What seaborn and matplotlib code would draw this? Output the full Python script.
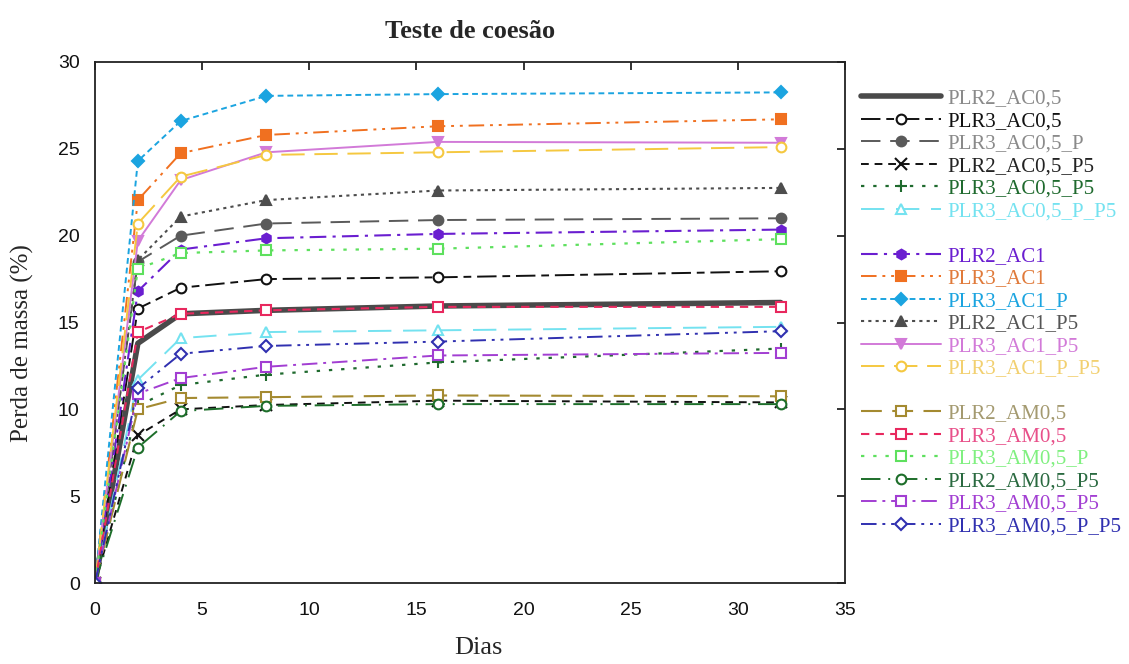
import matplotlib
matplotlib.use("Agg")
import matplotlib.pyplot as plt
from matplotlib.lines import Line2D
import seaborn as sns
import numpy as np

sns.set_theme(style="white")
plt.rcParams['font.family'] = ['Liberation Serif', 'DejaVu Serif']

dias = [0, 2, 4, 8, 16, 32]

series_names = [
    "PLR2_AC0,5", "PLR3_AC0,5", "PLR3_AC0,5_P", "PLR2_AC0,5_P5", "PLR3_AC0,5_P5", "PLR3_AC0,5_P_P5",
    "PLR2_AC1", "PLR3_AC1", "PLR3_AC1_P", "PLR2_AC1_P5", "PLR3_AC1_P5", "PLR3_AC1_P_P5",
    "PLR2_AM0,5", "PLR3_AM0,5", "PLR3_AM0,5_P", "PLR2_AM0,5_P5", "PLR3_AM0,5_P5", "PLR3_AM0,5_P_P5",
]

plr2_ac05 = [0, 13.8, 15.5, 15.7, 15.95, 16.15]
plr3_ac05 = [0, 15.8, 17.0, 17.5, 17.6, 17.95]
plr3_ac05_p = [0, 18.5, 20.0, 20.7, 20.9, 21.0]
plr2_ac05_p5 = [0, 8.5, 10.0, 10.25, 10.5, 10.4]
plr3_ac05_p5 = [0, 10.2, 11.4, 12.0, 12.7, 13.5]
plr3_ac05_p_p5 = [0, 11.7, 14.1, 14.45, 14.55, 14.75]
plr2_ac1 = [0, 16.8, 19.2, 19.85, 20.1, 20.35]
plr3_ac1 = [0, 22.05, 24.75, 25.8, 26.3, 26.7]
plr3_ac1_p = [0, 24.3, 26.6, 28.05, 28.15, 28.25]
plr2_ac1_p5 = [0, 18.6, 21.1, 22.05, 22.6, 22.75]
plr3_ac1_p5 = [0, 19.7, 23.2, 24.8, 25.4, 25.35]
plr3_ac1_p_p5 = [0, 20.7, 23.4, 24.65, 24.8, 25.1]
plr2_am05 = [0, 10.0, 10.65, 10.7, 10.8, 10.75]
plr3_am05 = [0, 14.45, 15.5, 15.7, 15.9, 15.9]
plr3_am05_p = [0, 18.1, 19.0, 19.15, 19.25, 19.8]
plr2_am05_p5 = [0, 7.8, 9.9, 10.2, 10.3, 10.3]
plr3_am05_p5 = [0, 10.9, 11.8, 12.45, 13.1, 13.25]
plr3_am05_p_p5 = [0, 11.2, 13.2, 13.65, 13.9, 14.5]

values = [
    plr2_ac05, plr3_ac05, plr3_ac05_p, plr2_ac05_p5, plr3_ac05_p5, plr3_ac05_p_p5,
    plr2_ac1, plr3_ac1, plr3_ac1_p, plr2_ac1_p5, plr3_ac1_p5, plr3_ac1_p_p5,
    plr2_am05, plr3_am05, plr3_am05_p, plr2_am05_p5, plr3_am05_p5, plr3_am05_p_p5,
]

# styles: color, text color, marker, filled, linestyle, linewidth
styles = [
    ("#4a4a4a", "#8a8a8a", None, True, "-", 4.0),
    ("#111111", "#111111", "o", False, (0, (10, 3, 4, 3)), 1.4),
    ("#5a5a5a", "#8a8a8a", "o", True, (0, (10, 5)), 1.4),
    ("#111111", "#222222", "x", True, (0, (4, 3)), 1.4),
    ("#1f6a2e", "#1f6a2e", "+", True, (0, (1.5, 4)), 1.6),
    ("#74e2f0", "#74e2f0", "^", False, (0, (12, 6)), 1.4),
    ("#6a1ed0", "#6a1ed0", "h", True, (0, (8, 3, 1.5, 3)), 1.5),
    ("#f07020", "#e07a3a", "s", True, (0, (8, 3, 1.5, 3, 1.5, 3)), 1.4),
    ("#1ba4e0", "#1ba4e0", "D", True, (0, (3, 2)), 1.4),
    ("#4d4d4d", "#555555", "^", True, (0, (1.5, 2)), 1.5),
    ("#d27ad8", "#d27ad8", "v", True, "-", 1.4),
    ("#f5c840", "#f2d070", "o", False, (0, (12, 5)), 1.4),
    ("#a48a30", "#a49a70", "s", False, (0, (10, 5)), 1.5),
    ("#e8285e", "#e8508a", "s", False, (0, (4, 3)), 1.5),
    ("#5ee05e", "#80f080", "s", False, (0, (1.5, 4)), 1.6),
    ("#1d6e2a", "#2a6a40", "o", False, (0, (10, 4, 1, 4)), 1.4),
    ("#a23ed2", "#a23ed2", "s", False, (0, (8, 3, 1.5, 3)), 1.4),
    ("#3030b0", "#3030b0", "D", False, (0, (8, 3, 1.5, 3, 1.5, 3)), 1.4),
]

fig = plt.figure(figsize=(11.29, 6.64), dpi=100)
ax = fig.add_axes([95/1129, 1 - 583/664, (845 - 95)/1129, (583 - 62)/664])

handles = []
for name, vals, (col, tcol, mk, filled, ls, lw) in zip(series_names, values, styles):
    kw = dict(color=col, linestyle=ls, linewidth=lw)
    if mk is not None:
        ms = 7 if mk not in ("+", "x") else 8
        if mk == "D":
            ms = 6
        kw.update(marker=mk, markersize=ms,
                  markeredgecolor=col, markeredgewidth=1.5,
                  markerfacecolor=col if filled else "white")
    sns.lineplot(x=dias, y=vals, ax=ax, legend=False, **kw)
    handles.append(ax.lines[-1])

ax.set_xlim(0, 35)
ax.set_ylim(0, 30)
ax.set_xticks(range(0, 36, 5))
ax.set_yticks(range(0, 31, 5))
ax.tick_params(direction="in", length=6, width=1.2, top=True, right=True,
               labelsize=14, colors="#111111")
ax.tick_params(axis="x", pad=14)
ax.tick_params(axis="y", pad=11)
for lbl in ax.get_xticklabels() + ax.get_yticklabels():
    lbl.set_family(['Liberation Sans', 'DejaVu Sans'])
for sp in ax.spines.values():
    sp.set_color("#222222")
    sp.set_linewidth(1.3)

ax.set_xlabel("Dias", fontsize=19)
ax.set_ylabel("Perda de massa (%)", fontsize=18)
ax.xaxis.set_label_coords((478 - 95) / 750, (583 - 637) / 521)
ax.yaxis.set_label_coords((34 - 95) / 750, (583 - 343) / 521)
ax.set_title("Teste de coesão", fontsize=19, fontweight="bold", pad=17)

blank = Line2D([], [], linestyle="none")
leg_handles = handles[:6] + [blank] + handles[6:12] + [blank] + handles[12:]
leg_labels = series_names[:6] + [""] + series_names[6:12] + [""] + series_names[12:]
leg = fig.legend(leg_handles, leg_labels, loc="upper left",
                 bbox_to_anchor=(861/1129, 1 - 89/664), frameon=False,
                 fontsize=15, handlelength=3.85, handletextpad=0.3,
                 labelspacing=0.14, borderpad=0, borderaxespad=0)
text_colors = [s[1] for s in styles]
tc_list = text_colors[:6] + ["white"] + text_colors[6:12] + ["white"] + text_colors[12:]
for t, c in zip(leg.get_texts(), tc_list):
    t.set_color(c)

fig.savefig("out.png", dpi=100)
